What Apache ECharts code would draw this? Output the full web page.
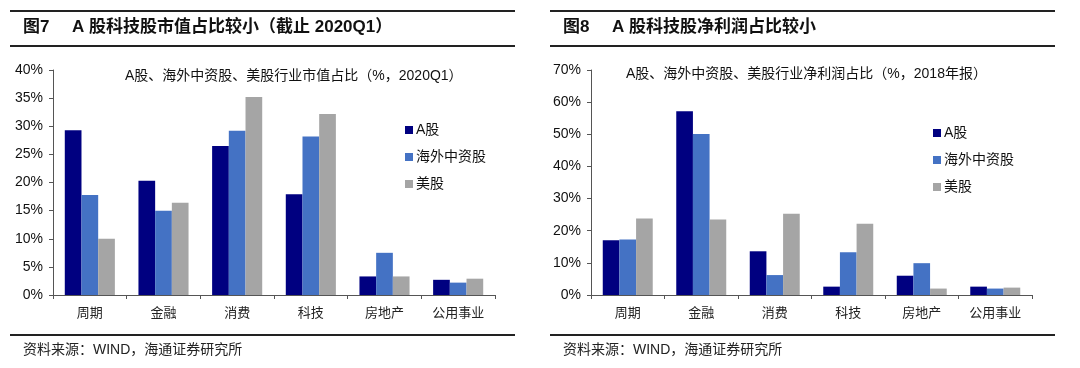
<!DOCTYPE html>
<html><head><meta charset="utf-8">
<script src="https://cdn.jsdelivr.net/npm/echarts@6/dist/echarts.min.js"></script>
<style>html,body{margin:0;padding:0;background:#fff}#c{width:1080px;height:368px}</style>
</head><body><div id="c"></div>
<script>
const categories = ['周期','金融','消费','科技','房地产','公用事业'];
const seriesNames = ['A股','海外中资股','美股'];
// Left: market cap share (%, 2020Q1)
const capA = [29.3, 20.3, 26.5, 17.9, 3.3, 2.7];
const capOverseas = [17.8, 15.0, 29.2, 28.2, 7.5, 2.2];
const capUS = [10.0, 16.4, 35.2, 32.2, 3.3, 2.9];
// Right: net profit share (%, 2018)
const profitA = [17.0, 57.2, 13.6, 2.6, 6.0, 2.6];
const profitOverseas = [17.3, 50.1, 6.2, 13.3, 9.9, 2.0];
const profitUS = [23.8, 23.5, 25.3, 22.2, 2.0, 2.3];
const leftTicks = {min:0, max:40, interval:5};
const rightTicks = {min:0, max:70, interval:10};
const colors = ['#000080','#4472C4','#A5A5A5'];

const chart = echarts.init(document.getElementById('c'));
const mixed = '"Liberation Sans", Arial, "Noto Sans CJK SC", sans-serif';
const latin = '"Liberation Sans", Arial, sans-serif';

function xAx(gi){return {type:'category', gridIndex:gi, data:categories,
  axisLine:{lineStyle:{color:'#555',width:1}},
  axisTick:{show:true, length:4, lineStyle:{color:'#555'}},
  axisLabel:{color:'#222', fontSize:13, fontFamily:mixed, margin:12}};}
function yAx(gi,t){return {type:'value', gridIndex:gi, min:t.min, max:t.max, interval:t.interval,
  axisLine:{show:true, lineStyle:{color:'#555',width:1}},
  axisTick:{show:true, length:4, lineStyle:{color:'#555'}},
  splitLine:{show:false},
  axisLabel:{color:'#111', fontSize:14, fontFamily:latin, margin:10, formatter:'{value}%'}};}
function bar(name, data, idx, gi){return {type:'bar', name:name, xAxisIndex:gi, yAxisIndex:gi, data:data,
  barGap:'0%', barCategoryGap:'32%', itemStyle:{color:colors[idx]}};}

const titleStyle = {fontSize:17, fontWeight:'bold', fontFamily:mixed, fill:'#111'};
function hline(x1,x2,y,w){return {type:'line', shape:{x1:x1,y1:y,x2:x2,y2:y}, style:{stroke:'#222', lineWidth:w}};}

chart.setOption({
  animation:false,
  backgroundColor:'#fff',
  grid:[{left:53, right:585, top:70, bottom:73},{left:591, right:48, top:70, bottom:73}],
  xAxis:[xAx(0), xAx(1)],
  yAxis:[yAx(0,leftTicks), yAx(1,rightTicks)],
  legend:[
    {data:seriesNames, orient:'vertical', left:400, top:118, itemWidth:8, itemHeight:8, itemGap:13, icon:'rect',
     textStyle:{fontSize:14, fontFamily:mixed, color:'#111', padding:[0,0,0,-2]}},
    {data:seriesNames, orient:'vertical', left:928, top:121, itemWidth:8, itemHeight:8, itemGap:13, icon:'rect',
     textStyle:{fontSize:14, fontFamily:mixed, color:'#111', padding:[0,0,0,-2]}}
  ],
  series:[
    bar(seriesNames[0], capA, 0, 0), bar(seriesNames[1], capOverseas, 1, 0), bar(seriesNames[2], capUS, 2, 0),
    bar(seriesNames[0], profitA, 0, 1), bar(seriesNames[1], profitOverseas, 1, 1), bar(seriesNames[2], profitUS, 2, 1)
  ],
  graphic:[
    hline(10,515,11,2), hline(10,515,46,2), hline(550,1055,11,2), hline(550,1055,46,2),
    hline(10,515,335,2), hline(550,1055,335,2),
    {type:'text', left:23, top:19, style:Object.assign({text:'图7'}, titleStyle)},
    {type:'text', left:72, top:19, style:Object.assign({text:'A 股科技股市值占比较小（截止 2020Q1）'}, titleStyle)},
    {type:'text', left:563, top:19, style:Object.assign({text:'图8'}, titleStyle)},
    {type:'text', left:612, top:19, style:Object.assign({text:'A 股科技股净利润占比较小'}, titleStyle)},
    {type:'text', left:125, top:69, style:{text:'A股、海外中资股、美股行业市值占比（%，2020Q1）', fontSize:14, fontFamily:mixed, fill:'#111'}},
    {type:'text', left:626, top:67, style:{text:'A股、海外中资股、美股行业净利润占比（%，2018年报）', fontSize:14, fontFamily:mixed, fill:'#111'}},
    {type:'text', left:23, top:343, style:{text:'资料来源：WIND，海通证券研究所', fontSize:14, fontFamily:mixed, fill:'#222'}},
    {type:'text', left:563, top:343, style:{text:'资料来源：WIND，海通证券研究所', fontSize:14, fontFamily:mixed, fill:'#222'}}
  ]
});
</script></body></html>
